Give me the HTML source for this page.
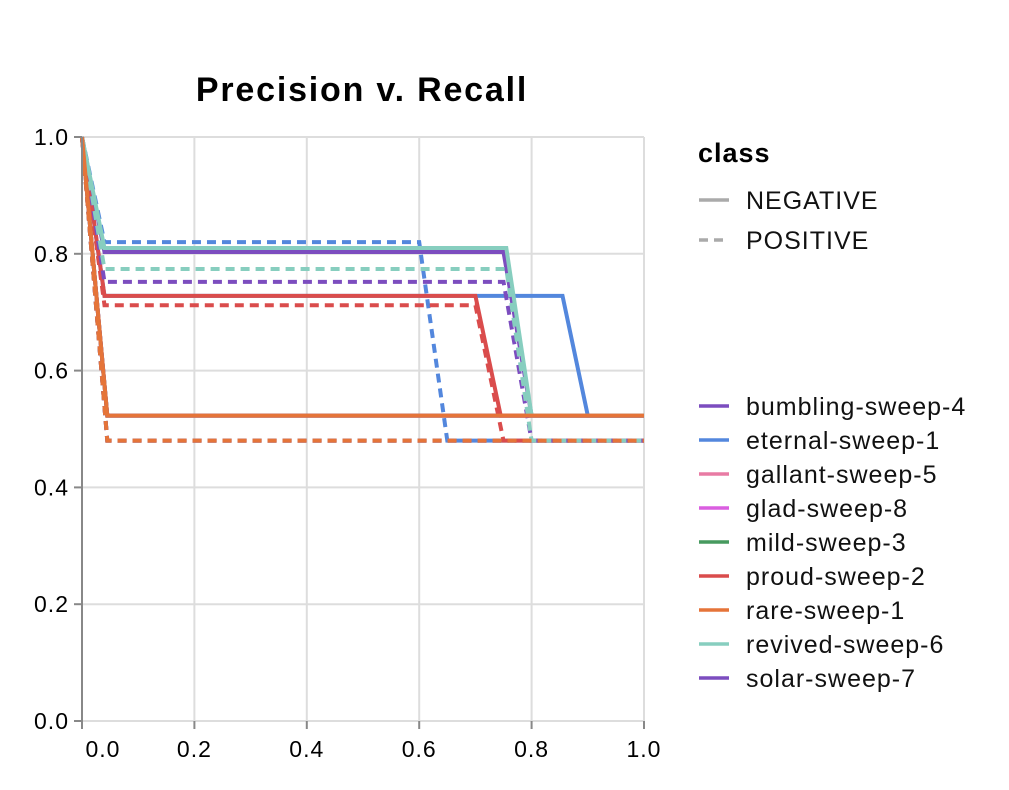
<!DOCTYPE html>
<html><head><meta charset="utf-8"><style>
body{margin:0;background:#fff;width:1009px;height:785px;overflow:hidden}
svg text{font-family:"Liberation Sans",Arial,sans-serif}
</style></head><body>
<svg width="1009" height="785" id="chart">
<text x="362" y="101" text-anchor="middle" font-size="34" font-weight="bold" letter-spacing="1.8" fill="#000">Precision v. Recall</text>
<g id="grid"></g><g id="series"></g><g id="axes"></g><g id="legend"></g>
</svg>
<script>
const xTicks=[0,0.2,0.4,0.6,0.8,1.0];
const yTicks=[0,0.2,0.4,0.6,0.8,1.0];
const runNames=["bumbling-sweep-4","eternal-sweep-1","gallant-sweep-5","glad-sweep-8","mild-sweep-3","proud-sweep-2","rare-sweep-1","revived-sweep-6","solar-sweep-7"];
const runColors=["#7c4dbf","#5387dd","#e87ba4","#da5ee0","#479a5f","#da4c4c","#e57439","#87cebf","#7c4dbf"];
const negRecall={"bumbling-sweep-4":[0,0.04,0.75,0.80,1],"eternal-sweep-1":[0,0.04,0.855,0.90,1],"gallant-sweep-5":[0,0.045,1],"glad-sweep-8":[0,0.045,1],"mild-sweep-3":[0,0.045,1],"proud-sweep-2":[0,0.04,0.70,0.745,1],"rare-sweep-1":[0,0.045,1],"revived-sweep-6":[0,0.04,0.755,0.80,1],"solar-sweep-7":[0,0.045,1]};
const negPrec={"bumbling-sweep-4":[1,0.803,0.803,0.523,0.523],"eternal-sweep-1":[1,0.728,0.728,0.523,0.523],"gallant-sweep-5":[1,0.523,0.523],"glad-sweep-8":[1,0.523,0.523],"mild-sweep-3":[1,0.523,0.523],"proud-sweep-2":[1,0.728,0.728,0.523,0.523],"rare-sweep-1":[1,0.523,0.523],"revived-sweep-6":[1,0.81,0.81,0.523,0.523],"solar-sweep-7":[1,0.523,0.523]};
const posRecall={"bumbling-sweep-4":[0,0.04,0.75,0.80,1],"eternal-sweep-1":[0,0.04,0.60,0.65,1],"gallant-sweep-5":[0,0.045,1],"glad-sweep-8":[0,0.045,1],"mild-sweep-3":[0,0.045,1],"proud-sweep-2":[0,0.04,0.70,0.75,1],"rare-sweep-1":[0,0.045,1],"revived-sweep-6":[0,0.04,0.755,0.80,1],"solar-sweep-7":[0,0.045,1]};
const posPrec={"bumbling-sweep-4":[1,0.752,0.752,0.48,0.48],"eternal-sweep-1":[1,0.82,0.82,0.48,0.48],"gallant-sweep-5":[1,0.48,0.48],"glad-sweep-8":[1,0.48,0.48],"mild-sweep-3":[1,0.48,0.48],"proud-sweep-2":[1,0.712,0.712,0.48,0.48],"rare-sweep-1":[1,0.48,0.48],"revived-sweep-6":[1,0.774,0.774,0.48,0.48],"solar-sweep-7":[1,0.48,0.48]};
const drawOrder=["gallant-sweep-5","glad-sweep-8","mild-sweep-3","solar-sweep-7","eternal-sweep-1","proud-sweep-2","bumbling-sweep-4","revived-sweep-6","rare-sweep-1"];
const NS="http://www.w3.org/2000/svg";
const X0=82,X1=644,Y0=721,Y1=137;
const sx=v=>X0+(X1-X0)*v, sy=v=>Y0-(Y0-Y1)*v;
function mk(tag,attrs,parent){const e=document.createElementNS(NS,tag);for(const k in attrs)e.setAttribute(k,attrs[k]);parent.appendChild(e);return e;}
const grid=document.getElementById('grid'),axes=document.getElementById('axes'),series=document.getElementById('series'),legend=document.getElementById('legend');
xTicks.forEach((t,i)=>{
 const l=mk('line',{x1:sx(t),x2:sx(t),y1:Y1,y2:Y0,stroke:'#ddd','stroke-width':2},grid);
 
 
 mk('line',{x1:sx(t),x2:sx(t),y1:Y0,y2:Y0+8,stroke:'#888','stroke-width':2},axes);
 const tx=mk('text',{x:i==0?sx(t)+21:sx(t),y:Y0+36,'text-anchor':'middle','font-size':23,'letter-spacing':1,fill:'#000'},axes);
 tx.textContent=t.toFixed(1);
 
 
});
yTicks.forEach((t,i)=>{
 const l=mk('line',{x1:X0,x2:X1,y1:sy(t),y2:sy(t),stroke:'#ddd','stroke-width':2},grid);
 
 
 mk('line',{x1:X0-8,x2:X0,y1:sy(t),y2:sy(t),stroke:'#888','stroke-width':2},axes);
 const tx=mk('text',{x:X0-13,y:sy(t)+8,'text-anchor':'end','font-size':23,'letter-spacing':1,fill:'#000'},axes);
 tx.textContent=t.toFixed(1);
 
 
});
const ya=mk('line',{x1:X0,x2:X0,y1:Y1,y2:Y0,stroke:'#888','stroke-width':2},axes);


function pts(xs,ys){return xs.map((x,i)=>sx(x)+','+sy(ys[i])).join(' ');}
drawOrder.forEach(n=>{
 const c=runColors[runNames.indexOf(n)];
 const p1=mk('polyline',{points:pts(posRecall[n],posPrec[n]),fill:'none',stroke:c,'stroke-width':4,'stroke-dasharray':'9,6'},series);
 
 
 const p2=mk('polyline',{points:pts(negRecall[n],negPrec[n]),fill:'none',stroke:c,'stroke-width':4},series);
 
 
});
let t=mk('text',{x:698,y:162,'font-size':27,'font-weight':'bold','letter-spacing':1,fill:'#000'},legend);t.textContent='class';


[['NEGATIVE','none',200],['POSITIVE','9,6',240]].forEach(([lab,d,y])=>{
 mk('line',{x1:699,x2:729,y1:y,y2:y,stroke:'#aaa','stroke-width':3.5,'stroke-dasharray':d},legend);
 const tx=mk('text',{x:746,y:y+9,'font-size':25,'letter-spacing':1,fill:'#111'},legend);tx.textContent=lab;
 
 
});
runNames.forEach((n,i)=>{
 const y=406+i*34;
 mk('line',{x1:699,x2:729,y1:y,y2:y,stroke:runColors[i],'stroke-width':3.5},legend);
 const tx=mk('text',{x:746,y:y+9,'font-size':25,'letter-spacing':1,fill:'#111'},legend);tx.textContent=n;
 
 
});
</script>
</body></html>
